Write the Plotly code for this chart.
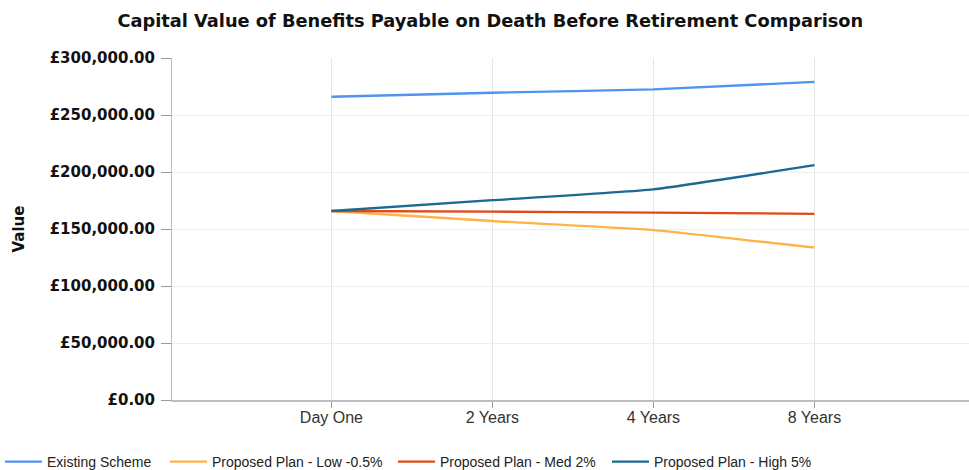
import plotly.graph_objects as go

categories = ["Day One", "2 Years", "4 Years", "8 Years"]
existing = [266000, 269500, 272500, 279000]
low = [165800, 157000, 149100, 133600]
med = [165800, 165200, 164400, 163300]
high = [165800, 175300, 184800, 206000]
y_ticks = [0, 50000, 100000, 150000, 200000, 250000, 300000]
y_labels = ["£0.00", "£50,000.00", "£100,000.00", "£150,000.00", "£200,000.00", "£250,000.00", "£300,000.00"]

series = [
    ("Existing Scheme", existing, "#4f94ef"),
    ("Proposed Plan - Low -0.5%", low, "#ffb347"),
    ("Proposed Plan - Med 2%", med, "#e04a1a"),
    ("Proposed Plan - High 5%", high, "#1b6a8f"),
]
legend_ids = ["legend", "legend2", "legend3", "legend4"]
legend_x = [0, 165, 393, 607]

fig = go.Figure()
for (name, vals, col), lid in zip(series, legend_ids):
    fig.add_trace(go.Scatter(
        x=categories, y=vals, name=name, mode="lines", legend=lid,
        line=dict(color=col, width=2.3, shape="spline", smoothing=0.4),
    ))

layout_legends = {}
for lid, lx in zip(legend_ids, legend_x):
    layout_legends[lid] = dict(
        orientation="h", x=lx / 969, xref="container", xanchor="left",
        y=8 / 470, yref="container", yanchor="middle",
        font=dict(family="Liberation Sans", size=14, color="#222"),
        itemwidth=37, bgcolor="rgba(0,0,0,0)",
    )

fig.update_layout(
    width=969, height=470,
    paper_bgcolor="white", plot_bgcolor="white",
    margin=dict(l=172, r=0, t=58, b=70),
    title=dict(text="<b>Capital Value of Benefits Payable on Death Before Retirement Comparison</b>",
               x=0.506, xanchor="center", y=0.955, yanchor="middle",
               font=dict(family="DejaVu Sans", size=17.8, color="#111")),
    showlegend=True,
    font=dict(family="Liberation Sans"),
    **layout_legends,
)
fig.update_xaxes(
    type="category", range=[-0.99, 3.96],
    showgrid=True, gridcolor="#e6e6e6", gridwidth=1,
    showline=True, linecolor="#bdbdbd", linewidth=2,
    ticks="outside", ticklen=6, tickcolor="#999",
    ticklabelstandoff=-4,
    tickfont=dict(family="Liberation Sans", size=16, color="#333"),
    zeroline=False,
)
fig.update_yaxes(
    range=[0, 300000], tickvals=y_ticks, ticktext=y_labels,
    showgrid=True, gridcolor="#eeeeee", gridwidth=1,
    showline=True, linecolor="#bdbdbd", linewidth=1,
    ticks="outside", ticklen=10, tickcolor="#999",
    ticklabelstandoff=3,
    tickfont=dict(family="DejaVu Sans", size=15, color="#111", weight="bold"),
    title=dict(text="<b>Value</b>", font=dict(family="DejaVu Sans", size=15, color="#111"), standoff=21),
    zeroline=False,
)
fig.write_html("out.html")
